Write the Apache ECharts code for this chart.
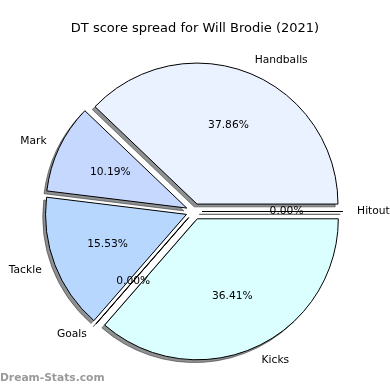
<!DOCTYPE html>
<html><head><meta charset="utf-8">
<script src="https://cdn.jsdelivr.net/npm/echarts@6/dist/echarts.min.js"></script>
<style>html,body{margin:0;padding:0;background:#fff}#c{width:390px;height:390px}</style>
</head><body><div id="c"></div>
<script>
const categories = ['Hitout', 'Handballs', 'Mark', 'Tackle', 'Goals', 'Kicks'];
const values = [0, 78, 21, 32, 0, 75];
const sliceColors = ['#dde8ff', '#eaf1ff', '#c7d8ff', '#b8d7ff', '#cce4ff', '#dbffff'];
const titleText = 'DT score spread for Will Brodie (2021)';
const watermark = 'Dream-Stats.com';

const total = values.reduce((a, b) => a + b, 0);
const FONT = 'DejaVu Sans';
const C = [194, 211.5];
const R = 141;
const SH = 2.8;
const shadowCol = 'rgba(50,52,56,0.55)';

const base = {
  type: 'pie', left: 0, top: 0, width: 800, height: 800,
  startAngle: 0, clockwise: false,
  selectedMode: 'multiple', selectedOffset: 8, avoidLabelOverlap: false,
  silent: true, emphasis: {disabled: true}
};

const chart = echarts.init(document.getElementById('c'), null, {renderer: 'canvas'});
chart.setOption({
  animation: false,
  backgroundColor: '#fff',
  textStyle: {fontFamily: FONT},
  title: {
    text: titleText, left: 'center', top: 17,
    textStyle: {fontSize: 13, fontWeight: 'normal', color: '#000', fontFamily: FONT}
  },
  graphic: [{
    type: 'text', left: 0, top: 373,
    style: {text: watermark, fill: '#9a9a9a', font: 'bold 10.7px "DejaVu Sans"'}
  }],
  series: [Object.assign({}, base, {
    center: [C[0] - SH, C[1] + SH], radius: [0, R],
    itemStyle: {color: shadowCol, borderColor: shadowCol, borderWidth: 1},
    label: {show: false}, labelLine: {show: false},
    data: categories.map((n, i) => ({name: n, value: values[i], selected: true}))
  }), Object.assign({}, base, {
    center: C, radius: [0, R],
    itemStyle: {borderColor: '#000', borderWidth: 1},
    label: {show: true, position: 'outside', formatter: '{b}', fontSize: 10.7, color: '#000', fontFamily: FONT, distanceToLabelLine: 0, overflow: 'none'},
    labelLine: {show: false, length: 0.1 * R, length2: 0},
    data: categories.map((n, i) => ({name: n, value: values[i], selected: true, itemStyle: {color: sliceColors[i]}}))
  }), Object.assign({}, base, {
    center: C, radius: [0, 2 * (0.6 * R - 3)],
    itemStyle: {color: 'rgba(0,0,0,0)', borderWidth: 0},
    label: {show: true, position: 'inside', fontSize: 10.7, color: '#000', fontFamily: FONT, overflow: 'none',
      formatter: p => (p.value / total * 100).toFixed(2) + '%'},
    labelLine: {show: false},
    data: categories.map((n, i) => ({name: n, value: values[i], selected: true}))
  })]
});
</script></body></html>
